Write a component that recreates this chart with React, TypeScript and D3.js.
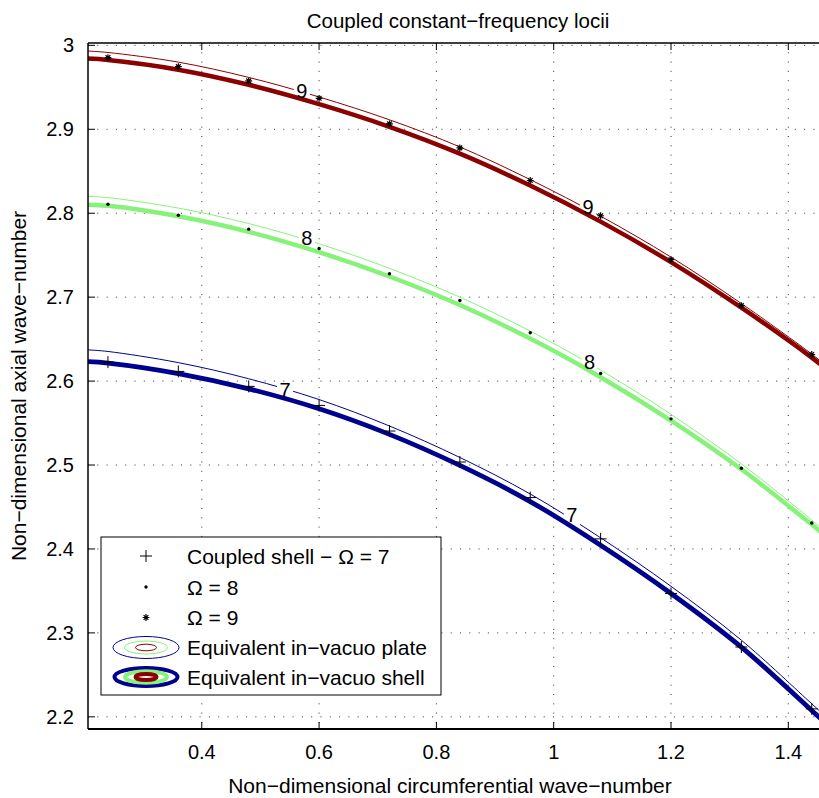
import React from 'react';
import * as d3 from 'd3';

// ---- data ----
const curveX = [0.206, 0.24, 0.36, 0.48, 0.6, 0.72, 0.84, 0.96, 1.08, 1.2, 1.32, 1.44, 1.46];
const shell7 = [2.6232, 2.6215, 2.609, 2.5908, 2.567, 2.5365, 2.4995, 2.4565, 2.4045, 2.347, 2.283, 2.2075, 2.1948];
const plate7 = [2.6372, 2.6353, 2.622, 2.6028, 2.578, 2.5465, 2.509, 2.4655, 2.4133, 2.3555, 2.2913, 2.2155, 2.2028];
const shell8 = [2.8102, 2.8088, 2.7963, 2.7778, 2.7536, 2.7246, 2.6906, 2.6506, 2.6046, 2.5529, 2.4949, 2.429, 2.4175];
const plate8 = [2.82, 2.8186, 2.8061, 2.7877, 2.7636, 2.7343, 2.7, 2.6596, 2.6131, 2.5604, 2.5014, 2.4345, 2.4225];
const shell9 = [2.9842, 2.9825, 2.971, 2.953, 2.93, 2.903, 2.871, 2.833, 2.79, 2.7417, 2.6874, 2.628, 2.617];
const plate9 = [2.9932, 2.9915, 2.98, 2.9618, 2.9385, 2.9113, 2.879, 2.84, 2.7965, 2.7477, 2.6924, 2.6322, 2.621];

const markerX = [0.24, 0.36, 0.48, 0.6, 0.72, 0.84, 0.96, 1.08, 1.2, 1.32, 1.44];
const coupled7 = [2.6226, 2.6115, 2.5937, 2.571, 2.5405, 2.5036, 2.4612, 2.412, 2.347, 2.2832, 2.2095];
const coupled8 = [2.8107, 2.7976, 2.781, 2.758, 2.7279, 2.696, 2.6576, 2.609, 2.555, 2.4962, 2.431];
const coupled9 = [2.9854, 2.9746, 2.9577, 2.9369, 2.9064, 2.8779, 2.839, 2.797, 2.7446, 2.69, 2.6317];

const labelText = ['9', '9', '8', '8', '7', '7'];
const labelX = [0.5705, 1.0587, 0.579, 1.061, 0.542, 1.031];
const labelY = [2.946, 2.807, 2.7702, 2.6226, 2.5898, 2.44];

const xTicks = [0.4, 0.6, 0.8, 1, 1.2, 1.4];
const yTicks = [2.2, 2.3, 2.4, 2.5, 2.6, 2.7, 2.8, 2.9, 3];

const legendLabels = [
  'Coupled shell \u2212 \u03A9 = 7',
  '\u03A9 = 8',
  '\u03A9 = 9',
  'Equivalent in\u2212vacuo plate',
  'Equivalent in\u2212vacuo shell',
];

const BLUE = '#00008f';
const GREEN = '#86f27a';
const RED = '#8b0000';

const W = 819;
const H = 798;
const L = 88;
const T = 43;
const B = 729;
const R = 823.5;
const FONT = '"Liberation Sans", Arial, Helvetica, sans-serif';

export default function App() {
  const x = d3.scaleLinear().domain([0.206, 1.46]).range([L, R]);
  const y = d3.scaleLinear().domain([2.1855, 3.0028]).range([B, T]);
  const line = d3
    .line<[number, number]>()
    .x((d) => x(d[0]))
    .y((d) => y(d[1]))
    .curve(d3.curveCatmullRom.alpha(0.5));
  const pts = (ys: number[]) => curveX.map((v, i) => [v, ys[i]] as [number, number]);

  const fmt = (v: number) => String(+v.toFixed(1));
  const right = W;

  const shells = [
    { ys: shell7, c: BLUE, w: 4.8 },
    { ys: shell8, c: GREEN, w: 4.5 },
    { ys: shell9, c: RED, w: 4.5 },
  ];
  const plates = [
    { ys: plate7, c: BLUE },
    { ys: plate8, c: GREEN },
    { ys: plate9, c: RED },
  ];

  const legendRows = [556, 587, 617.5, 647.5, 677];
  const lx = 146;

  const star = (cx: number, cy: number, r: number) => {
    const d2 = r * 0.7;
    return `M${cx - r},${cy}h${2 * r}M${cx},${cy - r}v${2 * r}M${cx - d2},${cy - d2}l${2 * d2},${2 * d2}M${cx - d2},${cy + d2}l${2 * d2},${-2 * d2}`;
  };

  return (
    <div style={{ position: 'absolute', left: 0, top: 0 }}>
      <svg width={W} height={H} style={{ display: 'block', background: '#fff' }} fontFamily={FONT}>
        <defs>
          <clipPath id="plotclip">
            <rect x={L} y={T} width={R - L} height={B - T} />
          </clipPath>
          <mask id="labelmask" maskUnits="userSpaceOnUse" x={0} y={0} width={W} height={H}>
            <rect x={0} y={0} width={W} height={H} fill="#fff" />
            {labelX.map((lv, i) => (
              <rect key={i} x={x(lv) - 8} y={y(labelY[i]) - 10} width={16} height={20} fill="#000" />
            ))}
          </mask>
        </defs>

        {/* grid */}
        <g stroke="#333" strokeWidth={1} strokeDasharray="1 8.3">
          {xTicks.map((t) => (
            <line key={'gx' + t} x1={x(t)} x2={x(t)} y1={T} y2={B} />
          ))}
          {yTicks.map((t) => (
            <line key={'gy' + t} x1={L} x2={right} y1={y(t)} y2={y(t)} />
          ))}
        </g>

        {/* curves */}
        <g clipPath="url(#plotclip)">
          <g mask="url(#labelmask)">
            {plates.map((p, i) => (
              <path key={'p' + i} d={line(pts(p.ys)) || ''} fill="none" stroke={p.c} strokeWidth={1} />
            ))}
          </g>
          {shells.map((s, i) => (
            <path key={'s' + i} d={line(pts(s.ys)) || ''} fill="none" stroke={s.c} strokeWidth={s.w} />
          ))}
          {/* markers */}
          {markerX.map((mx, i) => (
            <path
              key={'m7' + i}
              d={`M${x(mx) - 6},${y(coupled7[i])}h12M${x(mx)},${y(coupled7[i]) - 6}v12`}
              stroke="#000"
              strokeWidth={1}
              fill="none"
            />
          ))}
          {markerX.map((mx, i) => (
            <circle key={'m8' + i} cx={x(mx)} cy={y(coupled8[i])} r={1.7} fill="#000" />
          ))}
          {markerX.map((mx, i) => (
            <path key={'m9' + i} d={star(x(mx), y(coupled9[i]), 3.4)} stroke="#000" strokeWidth={1.2} fill="none" />
          ))}
          {labelX.map((lv, i) => (
            <text
              key={'lab' + i}
              x={x(lv)}
              y={y(labelY[i])}
              textAnchor="middle"
              dominantBaseline="central"
              fontSize={20}
              fill="#000"
            >
              {labelText[i]}
            </text>
          ))}
        </g>

        {/* axes box */}
        <g stroke="#000" fill="none">
          <line x1={L} x2={right} y1={B} y2={B} strokeWidth={2} />
          <line x1={L} x2={right} y1={T} y2={T} strokeWidth={1.5} />
          <line x1={L} x2={L} y1={T} y2={B} strokeWidth={1.5} />
          {xTicks.map((t) => (
            <g key={'tx' + t}>
              <line x1={x(t)} x2={x(t)} y1={B} y2={B - 7} strokeWidth={1} />
              <line x1={x(t)} x2={x(t)} y1={T} y2={T + 7} strokeWidth={1} />
            </g>
          ))}
          {yTicks.map((t) => (
            <line key={'ty' + t} x1={L} x2={L + 7} y1={y(t)} y2={y(t)} strokeWidth={1} />
          ))}
        </g>

        {/* tick labels */}
        <g fontSize={20} fill="#000">
          {xTicks.map((t) => (
            <text key={'xl' + t} x={x(t)} y={752} textAnchor="middle" dominantBaseline="central">
              {fmt(t)}
            </text>
          ))}
          {yTicks.map((t) => (
            <text key={'yl' + t} x={74} y={y(t)} textAnchor="end" dominantBaseline="central">
              {fmt(t)}
            </text>
          ))}
        </g>

        {/* titles */}
        <text x={458} y={20} textAnchor="middle" dominantBaseline="central" fontSize={20.5}>
          Coupled constant{'\u2212'}frequency locii
        </text>
        <text x={450} y={785} textAnchor="middle" dominantBaseline="central" fontSize={21}>
          Non{'\u2212'}dimensional circumferential wave{'\u2212'}number
        </text>
        <text
          transform={`translate(18,${(T + B) / 2}) rotate(-90)`}
          textAnchor="middle"
          dominantBaseline="central"
          fontSize={21}
        >
          Non{'\u2212'}dimensional axial wave{'\u2212'}number
        </text>

        {/* legend */}
        <g>
          <rect x={101} y={537} width={340} height={158} fill="#fff" stroke="#000" strokeWidth={1} />
          <path d={`M${lx - 6},${legendRows[0]}h12M${lx},${legendRows[0] - 6}v12`} stroke="#000" strokeWidth={1} />
          <circle cx={lx} cy={legendRows[1]} r={1.7} fill="#000" />
          <path d={star(lx, legendRows[2], 3.4)} stroke="#000" strokeWidth={1.2} />
          <g fill="none" strokeWidth={1}>
            <ellipse cx={lx} cy={legendRows[3]} rx={33} ry={11} stroke={BLUE} />
            <ellipse cx={lx} cy={legendRows[3]} rx={21.5} ry={6.5} stroke={GREEN} />
            <ellipse cx={lx} cy={legendRows[3]} rx={10.5} ry={3.3} stroke={RED} />
          </g>
          <g fill="none" strokeWidth={4}>
            <ellipse cx={lx} cy={legendRows[4]} rx={31.5} ry={9} stroke={BLUE} />
            <ellipse cx={lx} cy={legendRows[4]} rx={21} ry={5.8} stroke={GREEN} />
            <ellipse cx={lx} cy={legendRows[4]} rx={10.5} ry={3} stroke={RED} />
          </g>
          {legendLabels.map((lab, i) => (
            <text key={'leg' + i} x={187} y={legendRows[i]} dominantBaseline="central" fontSize={21} fill="#000">
              {lab}
            </text>
          ))}
        </g>
      </svg>
    </div>
  );
}
